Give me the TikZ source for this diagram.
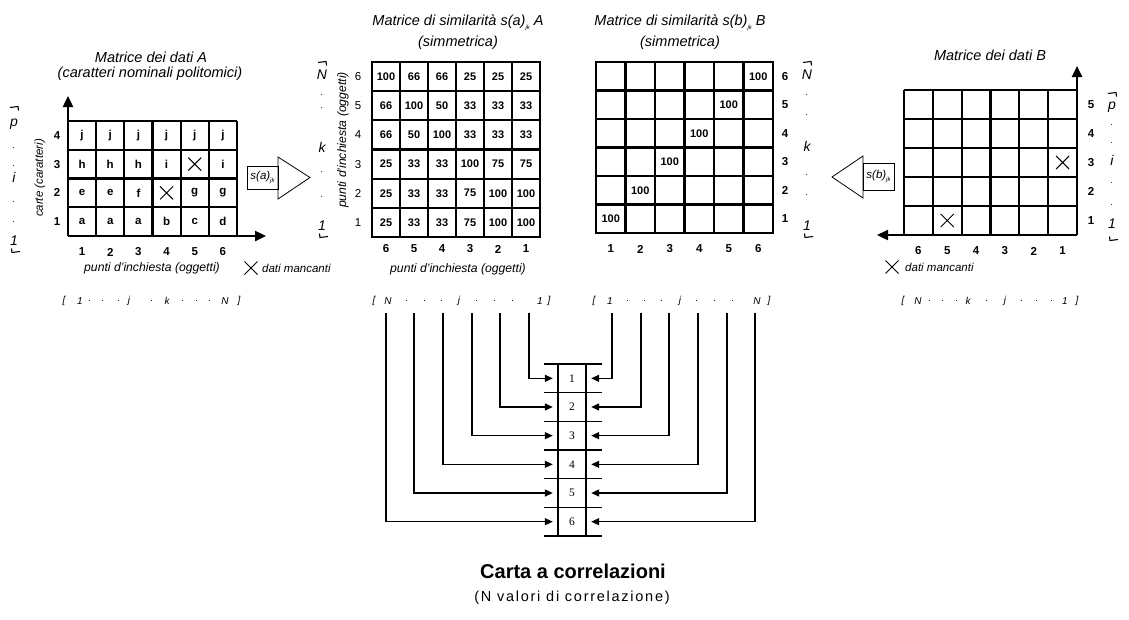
\documentclass[tikz,border=0pt]{standalone}
\usepackage{fontspec}
\setmainfont{Liberation Sans}
\newfontfamily\numserif{Liberation Serif}
\usetikzlibrary{arrows.meta}
\newcommand\mycross[1]{\draw[crossl] ([shift={(-6.5,-6.5)}]#1) -- ([shift={(6.5,6.5)}]#1) ([shift={(-6.5,6.5)}]#1) -- ([shift={(6.5,-6.5)}]#1);}
\newcommand\topbr[1]{\draw[brl] ([shift={(-5,0.5)}]#1) -- ([shift={(3,-0.5)}]#1) -- ([shift={(3.5,3.5)}]#1);}
\newcommand\botbr[1]{\draw[brl] ([shift={(-3.5,-3.5)}]#1) -- ([shift={(-3,0.5)}]#1) -- ([shift={(5,-0.5)}]#1);}
\newcommand\jk{\raisebox{-0.45ex}{\fontsize{6}{6}\selectfont\itshape jk}}
\newcommand\sdot{{\fontsize{9}{9}\selectfont .}}
\begin{document}
\begin{tikzpicture}[x=1pt,y=-1pt,
  title/.style={font=\fontsize{14.5}{16}\selectfont\itshape, inner sep=0pt},
  axlab/.style={font=\fontsize{12.2}{14}\selectfont\itshape, inner sep=0pt},
  cellb/.style={font=\fontsize{11}{12}\selectfont\bfseries, inner sep=0pt},
  letter/.style={font=\fontsize{11.5}{12}\selectfont\bfseries, inner sep=0pt},
  idx/.style={font=\fontsize{11.5}{12}\selectfont\bfseries, inner sep=0pt},
  idxn/.style={font=\fontsize{11.5}{12}\selectfont, inner sep=0pt},
  side/.style={font=\fontsize{14}{15}\selectfont\itshape, inner sep=0pt},
  listt/.style={font=\fontsize{10}{12}\selectfont\itshape, inner sep=0pt},
  gline/.style={line width=2.2pt},
  outer/.style={line width=2.8pt},
  axisl/.style={line width=2.4pt, -{Triangle[length=11pt,width=10pt]}},
  thinl/.style={line width=0.8pt},
  crossl/.style={line width=1pt},
  brl/.style={line width=1.1pt},
  cline/.style={line width=1.2pt},
  conn/.style={line width=1.3pt, -{Triangle[length=8pt,width=7pt]}},
  cnum/.style={font=\numserif\fontsize{11.5}{12}\selectfont, inner sep=0pt, minimum width=38pt, minimum height=28pt},
  smallit/.style={font=\fontsize{11.5}{13}\selectfont\itshape, inner sep=0pt}
]
\useasboundingbox (0,0) rectangle (1129,619);

% ================= Matrix A =================
\def\AL{68}\def\AT{121}\def\AW{28.1667}\def\AH{28.75}
\foreach \i in {1,...,6} \draw[gline] ({\AL+\i*\AW},\AT) -- ({\AL+\i*\AW},{\AT+4*\AH});
\foreach \j in {0,...,3} \draw[gline] (\AL,{\AT+\j*\AH}) -- ({\AL+6*\AW},{\AT+\j*\AH});
\coordinate (Aorig) at (\AL,{\AT+4*\AH});
\coordinate (Ayend) at (\AL,96);
\coordinate (Axend) at (266,{\AT+4*\AH});
\draw[axisl] (Aorig) -- (Ayend);
\draw[axisl] (Aorig) -- (Axend);
\foreach \rowlist [count=\r from 0] in {{j,j,j,j,j,j},{h,h,h,i,,i},{e,e,f,,g,g},{a,a,a,b,c,d}}
  \foreach \v [count=\c from 0] in \rowlist
    \node[letter] (A-\r-\c) at ({\AL+(\c+0.5)*\AW},{\AT+(\r+0.5)*\AH}) {\v};
\mycross{A-1-4.center}
\mycross{A-2-3.center}
\foreach \t [count=\r from 0] in {4,3,2,1} \node[idx] (Ar-\t) at (57,{\AT+(\r+0.5)*\AH}) {\t};
\foreach \t [count=\c from 0] in {1,...,6} \node[idx] (Ac-\t) at ({\AL+(\c+0.5)*\AW},252) {\t};
\node[axlab] (Axl) at (152,268) {punti d'inchiesta (oggetti)};
\node[smallit,rotate=90] (Ayl) at (40,178) {carte (caratteri)};
\coordinate (Amiss) at (251,268);
\mycross{Amiss}
\node[smallit,anchor=west] (Amisst) at (262,268) {dati mancanti};
\node[title] (At1) at (151,57) {Matrice dei dati A};
\node[title] (At2) at (150,74) {(caratteri nominali politomici)};
\foreach \y/\t [count=\n] in {124/p,148/\sdot,166/\sdot,177/i,202/\sdot,222/\sdot,241/1} \node[side] (As-\n) at (14,\y) {\t};
\coordinate (Abt) at (15,107); \topbr{Abt}
\coordinate (Abb) at (15,252); \botbr{Abb}

% arrow s(a)
\draw[thinl] (247,166) rectangle (278,189);
\node[smallit] (sabox) at (262.5,177.5) {s(a)\jk};
\draw[thinl] (278,157) -- (310,177.5) -- (278,199) -- cycle;

% ================= Matrix s(a) =================
\def\SL{372}\def\ST{62}\def\SW{28}\def\SH{29.1667}
\foreach \i in {1,...,5} \draw[gline] ({\SL+\i*\SW},\ST) -- ({\SL+\i*\SW},{\ST+6*\SH});
\foreach \j in {1,...,5} \draw[gline] (\SL,{\ST+\j*\SH}) -- ({\SL+6*\SW},{\ST+\j*\SH});
\draw[outer] (\SL,\ST) rectangle ({\SL+6*\SW},{\ST+6*\SH});
\foreach \rowlist [count=\r from 0] in {{100,66,66,25,25,25},{66,100,50,33,33,33},{66,50,100,33,33,33},{25,33,33,100,75,75},{25,33,33,75,100,100},{25,33,33,75,100,100}}
  \foreach \v [count=\c from 0] in \rowlist
    \node[cellb] (SA-\r-\c) at ({\SL+(\c+0.5)*\SW},{\ST+(\r+0.5)*\SH}) {\v};
\foreach \t [count=\r from 0] in {6,5,4,3,2,1} \node[idxn] (SAr-\t) at (358,{\ST+(\r+0.5)*\SH}) {\t};
\foreach \t [count=\c from 0] in {6,5,4,3,2,1} \node[idx] (SAc-\t) at ({\SL+(\c+0.5)*\SW},249) {\t};
\node[axlab,rotate=90] (SAyl) at (343,140) {punti d'inchiesta (oggetti)};
\node[axlab] (SAxl) at (458,269) {punti d'inchiesta (oggetti)};
\node[title] (SAt1) at (458,23) {Matrice di similarità s(a)\jk\ A};
\node[title] (SAt2) at (458,43) {(simmetrica)};
\foreach \y/\t [count=\n] in {75/N,95/\sdot,108/\sdot,147/k,172/\sdot,197/\sdot,226/1} \node[side] (SAs-\n) at (322,\y) {\t};
\coordinate (SAbt) at (323,62); \topbr{SAbt}
\coordinate (SAbb) at (323,237); \botbr{SAbb}

% ================= Matrix s(b) =================
\def\TL{596}\def\TT{62}\def\TW{29.5}\def\TH{28.5}
\foreach \i in {1,...,5} \draw[gline] ({\TL+\i*\TW},\TT) -- ({\TL+\i*\TW},{\TT+6*\TH});
\foreach \j in {1,...,5} \draw[gline] (\TL,{\TT+\j*\TH}) -- ({\TL+6*\TW},{\TT+\j*\TH});
\draw[outer] (\TL,\TT) rectangle ({\TL+6*\TW},{\TT+6*\TH});
\foreach \r in {0,...,5}
  \node[cellb] (SB-\r) at ({\TL+(5-\r+0.5)*\TW},{\TT+(\r+0.5)*\TH}) {100};
\foreach \t [count=\r from 0] in {6,5,4,3,2,1} \node[idx] (SBr-\t) at (785,{\TT+(\r+0.5)*\TH}) {\t};
\foreach \t [count=\c from 0] in {1,...,6} \node[idx] (SBc-\t) at ({\TL+(\c+0.5)*\TW},249) {\t};
\node[title] (SBt1) at (680,23) {Matrice di similarità s(b)\jk\ B};
\node[title] (SBt2) at (680,43) {(simmetrica)};
\foreach \y/\t [count=\n] in {75/N,95/\sdot,115/\sdot,146/k,175/\sdot,195/\sdot,226/1} \node[side] (SBs-\n) at (807,\y) {\t};
\coordinate (SBbt) at (808,62); \topbr{SBbt}
\coordinate (SBbb) at (808,237); \botbr{SBbb}

% arrow s(b)
\draw[thinl] (863,163) rectangle (894,190);
\node[smallit] (sbbox) at (878.5,176.5) {s(b)\jk};
\draw[thinl] (863,156) -- (832,177) -- (863,198) -- cycle;

% ================= Matrix B =================
\def\BL{904}\def\BT{90}\def\BW{28.8333}\def\BH{29}
\foreach \i in {0,...,5} \draw[gline] ({\BL+\i*\BW},\BT) -- ({\BL+\i*\BW},{\BT+5*\BH});
\foreach \j in {0,...,4} \draw[gline] (\BL,{\BT+\j*\BH}) -- ({\BL+6*\BW},{\BT+\j*\BH});
\coordinate (Borig) at ({\BL+6*\BW},{\BT+5*\BH});
\coordinate (Byend) at ({\BL+6*\BW},66);
\coordinate (Bxend) at (877,{\BT+5*\BH});
\draw[axisl] (Borig) -- (Byend);
\draw[axisl] (Borig) -- (Bxend);
\foreach \r in {0,...,4} \foreach \c in {0,...,5}
  \coordinate (B-\r-\c) at ({\BL+(\c+0.5)*\BW},{\BT+(\r+0.5)*\BH});
\mycross{B-2-5}
\mycross{B-4-1}
\foreach \t [count=\r from 0] in {5,4,3,2,1} \node[idx] (Br-\t) at (1091,{\BT+(\r+0.5)*\BH}) {\t};
\foreach \t [count=\c from 0] in {6,5,4,3,2,1} \node[idx] (Bc-\t) at ({\BL+(\c+0.5)*\BW},251) {\t};
\node[title] (Bt1) at (990,55) {Matrice dei dati B};
\coordinate (Bmiss) at (892,267);
\mycross{Bmiss}
\node[smallit,anchor=west] (Bmisst) at (905,267) {dati mancanti};
\foreach \y/\t [count=\n] in {107/p,125/\sdot,143/\sdot,160/i,183/\sdot,205/\sdot,224/1} \node[side] (Bs-\n) at (1112,\y) {\t};
\coordinate (Bbt) at (1113,93); \topbr{Bbt}
\coordinate (Bbb) at (1113,240); \botbr{Bbb}

% ================= index lists =================
\foreach \x/\t [count=\n] in {64/{[},80/1,90/.,103/.,119/.,129/j,152/.,167/k,183/.,197/.,210/.,225/N,239/{]}}
  \node[listt] (LA-\n) at (\x,301) {\t};
\foreach \x/\t [count=\n] in {374/{[},388/N,407/.,425/.,442/.,459/j,477/.,495/.,513/.,540/1,549/{]}}
  \node[listt] (LB-\n) at (\x,301) {\t};
\foreach \x/\t [count=\n] in {594/{[},610/1,628/.,645/.,662/.,680/j,697/.,715/.,733/.,757/N,769/{]}}
  \node[listt] (LC-\n) at (\x,301) {\t};
\foreach \x/\t [count=\n] in {903/{[},918/N,930/.,943/.,957/.,968/k,987/.,1005/j,1022/.,1037/.,1052/.,1065/1,1077/{]}}
  \node[listt] (LD-\n) at (\x,301) {\t};

% ================= correlation chart =================
\foreach \i in {1,...,6}
  \node[cnum] (C\i) at (572,{378.33+(\i-1)*28.67}) {\i};
\draw[cline] (558,364) -- (558,536);
\draw[cline] (586,364) -- (586,536);
\foreach \k in {0,...,6} \draw[cline] (544,{364+\k*28.67}) -- (602,{364+\k*28.67});
\foreach \i/\xl/\xr in {1/529/612,2/500/641,3/472/669,4/443/698,5/414/727,6/386/755} {
  \coordinate (L\i) at (\xl,313);
  \coordinate (R\i) at (\xr,313);
  \draw[conn] (L\i) |- (C\i.west);
  \draw[conn] (R\i) |- (C\i.east);
}
\node[font=\fontsize{20}{22}\selectfont\bfseries, inner sep=0pt] (Ct1) at (573,571) {Carta a correlazioni};
\node[font=\fontsize{14.5}{16}\selectfont\addfontfeature{LetterSpace=12}, inner sep=0pt] (Ct2) at (572,598) {(N valori di correlazione)};
\end{tikzpicture}
\end{document}
